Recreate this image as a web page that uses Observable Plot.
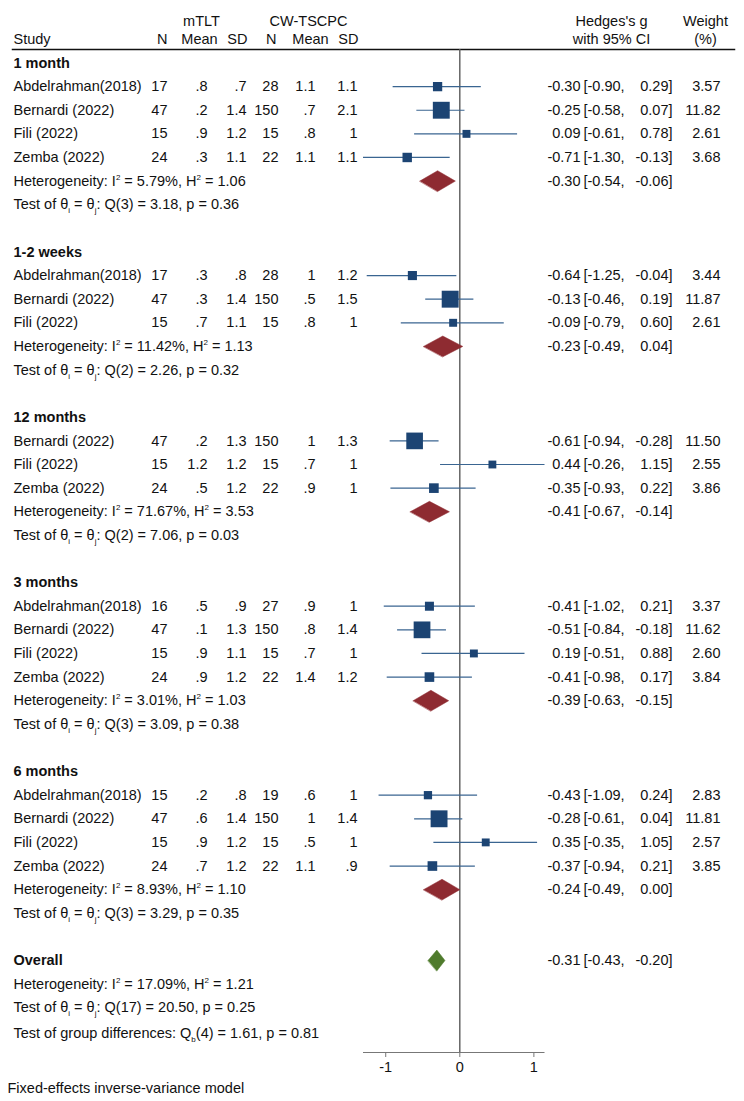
<!DOCTYPE html>
<html><head><meta charset="utf-8">
<script src="https://cdn.jsdelivr.net/npm/d3@7"></script>
<script src="https://cdn.jsdelivr.net/npm/@observablehq/plot@0.6"></script>
<style>html,body{margin:0;padding:0;background:#fff}#chart svg{display:block}</style>
</head><body><div id="chart"></div>
<script>
// ---------------- DATA ----------------
const groupNames = ["1 month", "1-2 weeks", "12 months", "3 months", "6 months"];
const studyGroup = [0,0,0,0, 1,1,1, 2,2,2, 3,3,3,3, 4,4,4,4];
const studyNames = ["Abdelrahman(2018)","Bernardi (2022)","Fili (2022)","Zemba (2022)",
  "Abdelrahman(2018)","Bernardi (2022)","Fili (2022)",
  "Bernardi (2022)","Fili (2022)","Zemba (2022)",
  "Abdelrahman(2018)","Bernardi (2022)","Fili (2022)","Zemba (2022)",
  "Abdelrahman(2018)","Bernardi (2022)","Fili (2022)","Zemba (2022)"];
const n1    = [17,47,15,24, 17,47,15, 47,15,24, 16,47,15,24, 15,47,15,24];
const mean1 = [.8,.2,.9,.3, .3,.3,.7, .2,1.2,.5, .5,.1,.9,.9, .2,.6,.9,.7];
const sd1   = [.7,1.4,1.2,1.1, .8,1.4,1.1, 1.3,1.2,1.2, .9,1.3,1.1,1.2, .8,1.4,1.2,1.2];
const n2    = [28,150,15,22, 28,150,15, 150,15,22, 27,150,15,22, 19,150,15,22];
const mean2 = [1.1,.7,.8,1.1, 1,.5,.8, 1,.7,.9, .9,.8,.7,1.4, .6,1,.5,1.1];
const sd2   = [1.1,2.1,1,1.1, 1.2,1.5,1, 1.3,1,1, 1,1.4,1,1.2, 1,1.4,1,.9];
const g     = [-0.30,-0.25,0.09,-0.71, -0.64,-0.13,-0.09, -0.61,0.44,-0.35, -0.41,-0.51,0.19,-0.41, -0.43,-0.28,0.35,-0.37];
const lo    = [-0.90,-0.58,-0.61,-1.30, -1.25,-0.46,-0.79, -0.94,-0.26,-0.93, -1.02,-0.84,-0.51,-0.98, -1.09,-0.61,-0.35,-0.94];
const hi    = [0.29,0.07,0.78,-0.13, -0.04,0.19,0.60, -0.28,1.15,0.22, 0.21,-0.18,0.88,0.17, 0.24,0.04,1.05,0.21];
const weight= [3.57,11.82,2.61,3.68, 3.44,11.87,2.61, 11.50,2.55,3.86, 3.37,11.62,2.60,3.84, 2.83,11.81,2.57,3.85];

const groupG   = [-0.30,-0.23,-0.41,-0.39,-0.24];
const groupLo  = [-0.54,-0.49,-0.67,-0.63,-0.49];
const groupHi  = [-0.06,0.04,-0.14,-0.15,0.00];
const groupI2  = [5.79,11.42,71.67,3.01,8.93];
const groupH2  = [1.06,1.13,3.53,1.03,1.10];
const groupQdf = [3,2,2,3,3];
const groupQ   = [3.18,2.26,7.06,3.09,3.29];
const groupP   = [0.36,0.32,0.03,0.38,0.35];

const overall = ["Overall", -0.31, -0.43, -0.20]; // label, g, lo, hi
const overallHet = [17.09, 1.21];                 // I2, H2
const overallTest = [17, 20.50, 0.25];            // df, Q, p
const groupDiff = [4, 1.61, 0.81];                // df, Qb, p
const xTicks = [-1, 0, 1];
const footnote = "Fixed-effects inverse-variance model";

// ---------------- LAYOUT ----------------
const W = 744, H = 1101, ML = 12, MR = 10, MT = 49, MB = 49;
const FONT = "'Liberation Sans', Arial, Helvetica, sans-serif";
const FS = 14.5, TXT = "#111";
const SQ = "#1c4473", CI = "#3a6591", DIA = "#8e2b31", DIA_O = "#4f7b2c";

const fmt = v => String(v).replace(/^0\./, ".").replace(/^-0\./, "-.");
const f2 = v => v.toFixed(2);

// build rows
const rows = [];
let r = 0;
groupNames.forEach((name, gi) => {
  rows.push({row: r++, type: "group", label: name});
  studyGroup.forEach((sg, i) => { if (sg === gi) rows.push({row: r++, type: "study", i}); });
  rows.push({row: r++, type: "het", gi});
  rows.push({row: r++, type: "test", gi});
  r++;
});
const overallRow = r;
const studyRows = rows.filter(d => d.type === "study");
const groupRows = rows.filter(d => d.type === "group");
const hetRows = rows.filter(d => d.type === "het");
const testRows = rows.filter(d => d.type === "test");

const summaryRows = hetRows.map(d => ({row: d.row, g: groupG[d.gi], lo: groupLo[d.gi], hi: groupHi[d.gi], color: DIA}));
summaryRows.push({row: overallRow, g: overall[1], lo: overall[2], hi: overall[3], color: DIA_O});

const HALF = 0.44;
const diamonds = summaryRows.flatMap((d, k) => [
  {k, x: d.lo, y: d.row, c: d.color},
  {k, x: d.g, y: d.row - HALF, c: d.color},
  {k, x: d.hi, y: d.row, c: d.color},
  {k, x: d.g, y: d.row + HALF, c: d.color}
]);

const xMin = d3.min([...lo, ...groupLo, overall[2]]);
const xMax = d3.max([...hi, ...groupHi, overall[3]]);

const leftCol = (data, text, absX, anchor, extra = {}) =>
  Plot.text(data, {y: "row", text, frameAnchor: "left", textAnchor: anchor, dx: absX - ML, fontSize: FS, fill: TXT, ...extra});
const rightCol = (data, text, absX, anchor, extra = {}) =>
  Plot.text(data, {y: "row", text, frameAnchor: "right", textAnchor: anchor, dx: absX - (W - MR), fontSize: FS, fill: TXT, ...extra});

const hdrTop = [{row: -1.78}], hdrBot = [{row: -1}];
const otherRows = [
  {row: overallRow, t: overall[0], bold: true},
  {row: overallRow + 1, t: `Heterogeneity: I^{2} = ${f2(overallHet[0])}%, H^{2} = ${f2(overallHet[1])}`},
  {row: overallRow + 2, t: `Test of θ_{i} = θ_{j}: Q(${overallTest[0]}) = ${f2(overallTest[1])}, p = ${f2(overallTest[2])}`},
  {row: overallRow + 3.1, t: `Test of group differences: Q_{b}(${groupDiff[0]}) = ${f2(groupDiff[1])}, p = ${f2(groupDiff[2])}`}
];
const yRowH = (960 - 62.5) / 38;
const axisRow = 38 + (H - MB - 960) / yRowH;
const footRow = 38 + (1088 - 960) / yRowH;

const plot = Plot.plot({
  width: W, height: H,
  marginLeft: ML, marginRight: MR, marginTop: MT, marginBottom: MB,
  style: {fontFamily: FONT, fontSize: FS + "px", background: "#fff", color: TXT},
  x: {domain: [xMin, xMax], range: [363, 544.5]},
  y: {domain: [0, 38], range: [62.5, 960], axis: null},
  r: {type: "sqrt", domain: [0, 12], range: [0, 9.6]},
  marks: [
    Plot.frame({anchor: "top", stroke: "#111", strokeWidth: 1.5}),
    Plot.ruleX([0], {stroke: "#5a5a5a", strokeWidth: 1.4}),
    Plot.ruleY([axisRow], {x1: xMin, x2: xMax, stroke: "#777", strokeWidth: 1.2}),
    Plot.axisX({ticks: xTicks, tickSize: 5, tickPadding: 4, tickFormat: d => String(d), label: null, fontSize: FS, stroke: "#777", fill: TXT}),
    // CI lines and squares
    Plot.ruleY(studyRows, {y: "row", x1: d => lo[d.i], x2: d => hi[d.i], stroke: CI, strokeWidth: 1.2}),
    Plot.dot(studyRows, {x: d => g[d.i], y: "row", r: d => weight[d.i], symbol: "square", fill: SQ, stroke: "none"}),
    // diamonds
    Plot.line(diamonds, {x: "x", y: "y", z: "k", fill: "c", stroke: "c", strokeWidth: 0.5, curve: "linear-closed"}),
    // headers
    leftCol(hdrTop, () => "mTLT", 201, "middle"),
    leftCol(hdrTop, () => "CW-TSCPC", 308, "middle"),
    leftCol(hdrBot, () => "Study", 13, "start"),
    leftCol(hdrBot, () => "N", 167, "end"),
    leftCol(hdrBot, () => "Mean", 199, "middle"),
    leftCol(hdrBot, () => "SD", 247, "end"),
    leftCol(hdrBot, () => "N", 276, "end"),
    leftCol(hdrBot, () => "Mean", 310, "middle"),
    leftCol(hdrBot, () => "SD", 358, "end"),
    rightCol(hdrTop, () => "Hedges's g", 611, "middle"),
    rightCol(hdrBot, () => "with 95% CI", 611, "middle"),
    rightCol(hdrTop, () => "Weight", 705, "middle"),
    rightCol(hdrBot, () => "(%)", 705, "middle"),
    // group labels
    leftCol(groupRows, "label", 13, "start", {fontWeight: "bold"}),
    // study columns
    leftCol(studyRows, d => studyNames[d.i], 13, "start"),
    leftCol(studyRows, d => fmt(n1[d.i]), 167, "end"),
    leftCol(studyRows, d => fmt(mean1[d.i]), 207, "end"),
    leftCol(studyRows, d => fmt(sd1[d.i]), 246, "end"),
    leftCol(studyRows, d => fmt(n2[d.i]), 278, "end"),
    leftCol(studyRows, d => fmt(mean2[d.i]), 315, "end"),
    leftCol(studyRows, d => fmt(sd2[d.i]), 357, "end"),
    rightCol(studyRows, d => f2(g[d.i]), 580, "end"),
    rightCol(studyRows, d => `[${f2(lo[d.i])},`, 583, "start"),
    rightCol(studyRows, d => `${f2(hi[d.i])}]`, 672, "end"),
    rightCol(studyRows, d => f2(weight[d.i]), 720, "end"),
    // summary estimates
    rightCol(summaryRows, d => f2(d.g), 580, "end"),
    rightCol(summaryRows, d => `[${f2(d.lo)},`, 583, "start"),
    rightCol(summaryRows, d => `${f2(d.hi)}]`, 672, "end"),
    // heterogeneity and tests
    leftCol(hetRows, d => `Heterogeneity: I^{2} = ${f2(groupI2[d.gi])}%, H^{2} = ${f2(groupH2[d.gi])}`, 13, "start"),
    leftCol(testRows, d => `Test of θ_{i} = θ_{j}: Q(${groupQdf[d.gi]}) = ${f2(groupQ[d.gi])}, p = ${f2(groupP[d.gi])}`, 13, "start"),
    leftCol(otherRows.filter(d => d.bold), "t", 13, "start", {fontWeight: "bold"}),
    leftCol(otherRows.filter(d => !d.bold), "t", 13, "start"),
    leftCol([{row: footRow}], () => footnote, 7, "start")
  ]
});

// convert ^{..} / _{..} markup into real superscript/subscript tspans
const NS = "http://www.w3.org/2000/svg";
plot.querySelectorAll("text").forEach(t => {
  const s = t.textContent;
  if (!/[_^]\{/.test(s)) return;
  t.textContent = "";
  const re = /([_^])\{([^}]*)\}/g;
  let last = 0, m, pending = 0;
  const add = (txt, shift, attrs = {}) => {
    if (!txt) return;
    const sp = document.createElementNS(NS, "tspan");
    sp.textContent = txt;
    const dy = pending + shift;
    if (dy) sp.setAttribute("dy", dy);
    for (const k in attrs) sp.setAttribute(k, attrs[k]);
    t.appendChild(sp);
    pending = 0;
  };
  while ((m = re.exec(s))) {
    const shift = m[1] === "^" ? -6 : 4;
    add(s.slice(last, m.index), 0);
    add(m[2], shift, {"font-size": "8px"});
    pending = -shift;
    last = re.lastIndex;
  }
  add(s.slice(last), 0);
});

document.getElementById("chart").appendChild(plot);
</script>
</body></html>
